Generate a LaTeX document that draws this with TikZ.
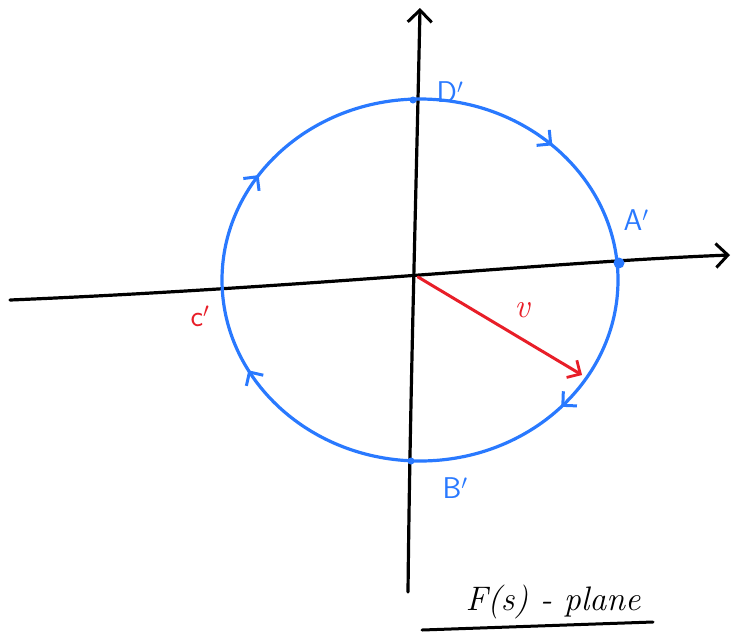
\documentclass[tikz,border=0pt]{standalone}
\usetikzlibrary{arrows.meta,decorations.markings}
\definecolor{penblue}{RGB}{41,121,255}
\definecolor{penred}{RGB}{232,30,40}
\begin{document}
\begin{tikzpicture}[x=1pt,y=-1pt,
  axis/.style={line width=3.2pt,black,line cap=round,-{Straight Barb[length=12pt,width=24pt,line width=3pt]}},
  contour/.style={line width=3.2pt,penblue},
  bluelab/.style={text=penblue,font=\fontsize{30}{32}\selectfont\sffamily},
  redlab/.style={text=penred,font=\fontsize{30}{32}\selectfont\sffamily},
  ptdot/.style={circle,fill=penblue,inner sep=0pt,minimum size=9pt},
  barb/.style={}]
\useasboundingbox (0,0) rectangle (743,635);
% axes
\coordinate (xl) at (10,300);
\coordinate (xr) at (730,255);
\coordinate (yb) at (408,592);
\coordinate (yt) at (420,8);
\coordinate (O) at (418,277);
\draw[axis] (xl) .. controls (300,288) and (550,262) .. (xr);
\draw[axis] (yb) .. controls (410,400) and (416,200) .. (yt);
% contour (clockwise)
\draw[contour,postaction={decorate},decoration={markings,
  mark=at position 0.12 with {\arrow{Straight Barb[length=10pt,width=20pt,line width=3pt]}},
  mark=at position 0.42 with {\arrow{Straight Barb[length=10pt,width=20pt,line width=3pt]}},
  mark=at position 0.595 with {\arrow{Straight Barb[length=10pt,width=20pt,line width=3pt]}},
  mark=at position 0.87 with {\arrow{Straight Barb[length=10pt,width=20pt,line width=3pt]}}}]
  (618,280) arc[start angle=0,end angle=-360,x radius=198pt,y radius=181pt];
% points
\node[ptdot,minimum size=11pt] (Ap) at (619,263) {};
\node[ptdot,minimum size=7pt] (Dp) at (413,100) {};
\node[ptdot,minimum size=7pt] (Bp) at (411,461) {};
% labels
\node[bluelab] (Dl) at (450,92) {D$'$};
\node[bluelab] (Al) at (636,220) {A$'$};
\node[bluelab] (Bl) at (455,488) {B$'$};
\node[redlab] (Cl) at (200,316) {c$'$};
% radius vector
\coordinate (R) at (582,375);
\draw[line width=3pt,penred,line cap=round,-{Straight Barb[length=10pt,width=20pt,line width=2.8pt]}] (O) -- (R);
\node[text=penred,font=\fontsize{34}{36}\selectfont\itshape] (vl) at (522,310) {v};
% plane label
\node[font=\fontsize{34}{36}\selectfont\itshape,anchor=base] (title) at (553,610) {F(s) - plane};
\coordinate (u1) at (422,630);
\coordinate (u2) at (653,622);
\draw[line width=3pt,line cap=round] (u1) -- (u2);
\end{tikzpicture}
\end{document}
